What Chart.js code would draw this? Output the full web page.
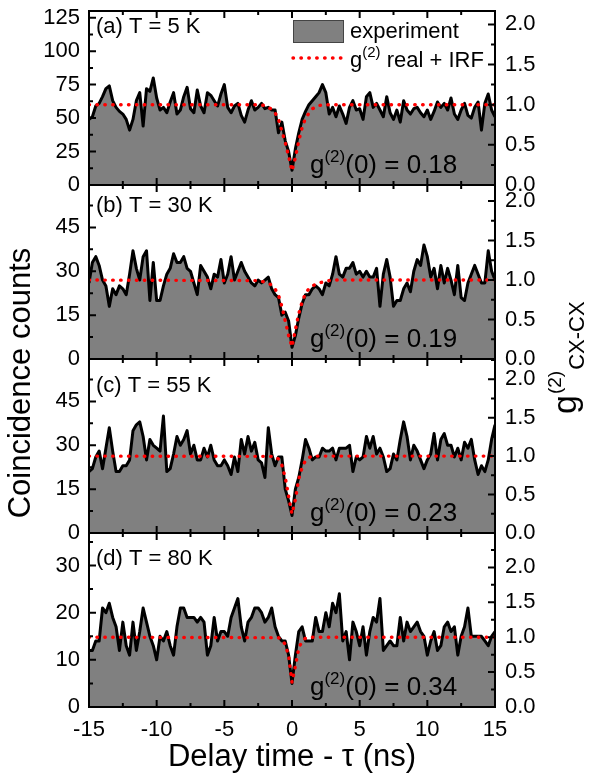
<!DOCTYPE html>
<html>
<head>
<meta charset="utf-8">
<script src="https://cdn.jsdelivr.net/npm/chart.js@4"></script>
<style>
  html, body { margin: 0; padding: 0; background: #fff; }
</style>
</head>
<body>
<canvas id="c" width="589" height="781"></canvas>
<script>
// delay time bins (ns)
const timeNs = [-15,-14.75,-14.5,-14.25,-14,-13.75,-13.5,-13.25,-13,-12.75,-12.5,-12.25,-12,-11.75,-11.5,-11.25,-11,-10.75,-10.5,-10.25,
  -10,-9.75,-9.5,-9.25,-9,-8.75,-8.5,-8.25,-8,-7.75,-7.5,-7.25,-7,-6.75,-6.5,-6.25,-6,-5.75,-5.5,-5.25,
  -5,-4.75,-4.5,-4.25,-4,-3.75,-3.5,-3.25,-3,-2.75,-2.5,-2.25,-2,-1.75,-1.5,-1.25,-1,-0.75,-0.5,-0.25,
  0,0.25,0.5,0.75,1,1.25,1.5,1.75,2,2.25,2.5,2.75,3,3.25,3.5,3.75,4,4.25,4.5,4.75,
  5,5.25,5.5,5.75,6,6.25,6.5,6.75,7,7.25,7.5,7.75,8,8.25,8.5,8.75,9,9.25,9.5,9.75,
  10,10.25,10.5,10.75,11,11.25,11.5,11.75,12,12.25,12.5,12.75,13,13.25,13.5,13.75,14,14.25,14.5,14.75,15];

// coincidence counts, one list per temperature
const counts5K = [49,51,59,61,66,72,74,63,58,55, 53,49,41,49,63,69,44,72,70,80,
  65,56,58,54,62,69,53,56,66,73, 57,54,71,59,54,69,67,63,59,68,
  75,58,54,59,61,52,47,56,63,56, 58,61,57,58,56,56,39,47,33,25,
  11,27,39,49,55,60,63,66,69,75, 69,53,58,51,59,53,46,58,63,56,
  57,49,66,69,58,61,56,51,66,54, 49,56,47,63,56,53,57,58,54,51,
  56,49,55,62,58,61,56,65,53,49, 56,61,52,50,58,62,41,61,68,56, 51];
const counts30K = [26,33,35,32,27,25,18,24,22,25, 24,22,29,37,31,27,35,37,20,33,
  20,20,25,29,31,36,33,33,35,31, 30,26,22,32,30,28,24,29,28,34,
  26,29,35,27,30,33,30,28,26,25, 27,26,27,28,24,22,21,15,16,13,
  4,8,14,19,22,22,24,25,24,22, 26,25,29,35,29,28,31,31,33,29,
  30,28,30,28,28,31,18,29,34,28, 18,20,20,24,26,23,30,34,32,39,
  35,28,31,24,32,26,31,27,22,32, 21,20,26,29,32,29,26,26,37,30, 27];
const counts55K = [21,22,26,28,22,29,36,28,21,21, 23,23,25,35,37,38,33,25,32,30,
  29,28,40,21,22,27,33,30,32,35, 27,30,25,25,29,26,30,25,23,23,
  25,23,20,26,21,32,27,33,28,31, 25,24,19,36,27,23,26,26,15,11,
  6,15,19,25,32,29,25,26,26,29, 28,28,29,25,29,29,29,30,21,26,
  25,26,33,29,33,27,29,26,21,22, 27,25,32,38,33,25,30,28,25,22,
  25,27,34,25,32,34,30,30,26,29, 25,31,29,32,25,20,23,21,25,32, 37];
const counts80K = [12,12,14,14,21,20,22,19,17,12, 18,13,11,18,12,16,21,18,15,13,
  10,15,14,16,13,11,17,21,21,19, 19,19,18,19,18,11,13,19,14,16,
  16,15,19,21,23,17,14,18,19,21, 21,20,18,19,21,17,15,14,14,11,
  5,11,16,17,14,14,14,19,16,16, 20,17,22,20,24,14,16,10,18,16,
  13,17,11,16,19,18,23,12,13,14, 13,13,19,14,18,16,17,18,16,15,
  11,14,16,12,13,17,18,16,17,11, 15,17,21,15,15,15,15,14,13,15, 16];

// fit: g(2) real + IRF
const fitTime5K = [-15,-2.5,-2,-1.5,-1.25,-1,-0.75,-0.5,-0.25,0,0.25,0.5,0.75,1,1.25,1.5,2,2.5,15];
const fit5K = [60,60,59.4,56.5,54,49,40.5,31.8,21.5,10.5,20.5,33,43,50,53.6,56.9,59.4,60,60];
const fitTime30K = [-15,-2.5,-2,-1.5,-1.25,-1,-0.75,-0.5,-0.25,0,0.25,0.5,0.75,1,1.25,1.5,2,2.5,3,15];
const fit30K = [27,26.8,26.3,25.3,24,21.8,18,13,8,4.2,10,15.5,19.5,22.5,24,25,26,26.6,27,27];
const fitTime55K = [-15,-1.25,-1,-0.75,-0.5,-0.25,0,0.25,0.5,0.75,1,1.25,1.5,15];
const fit55K = [26.3,26.2,25.3,23.2,19,12.5,6.5,11.5,18.5,22.5,24.8,25.8,26.3,26.3];
const fitTime80K = [-15,-1,-0.75,-0.5,-0.25,0,0.25,0.5,0.75,1,1.25,15];
const fit80K = [14.8,14.7,14.2,13.3,10.8,5.2,8.7,12.5,14,14.6,14.8,14.8];

// axes
const countMax = [130, 59.5, 59.5, 36.9];
const countStep = [25, 15, 15, 10];
const baseline = [60, 27, 26.3, 14.8];   // counts that correspond to g(2) = 1
const panelLabels = ['(a) T = 5 K', '(b) T = 30 K', '(c) T = 55 K', '(d) T = 80 K'];
const g0Values = ['0.18', '0.19', '0.23', '0.34'];

const FONT = 'Arial, "Liberation Sans", sans-serif';
const leftIds = ['ya', 'yb', 'yc', 'yd'];
const rightIds = ['ra', 'rb', 'rc', 'rd'];
const labelOffset = [16, 21, 27, 26];

const expSets = [counts5K, counts30K, counts55K, counts80K];
const fitSets = [[fitTime5K, fit5K], [fitTime30K, fit30K], [fitTime55K, fit55K], [fitTime80K, fit80K]];

const pts = (xs, ys) => xs.map((x, i) => ({ x: x, y: ys[i] }));

const datasets = [];
fitSets.forEach((f, p) => {
  datasets.push({
    data: pts(f[0], f[1]), yAxisID: leftIds[p],
    borderColor: '#ff0000', borderWidth: 3.4, borderDash: [0.5, 7.4], borderCapStyle: 'round',
    pointRadius: 0, fill: false, tension: 0
  });
});
expSets.forEach((c, p) => {
  datasets.push({
    data: pts(timeNs, c), yAxisID: leftIds[p],
    borderColor: '#000', borderWidth: 3, backgroundColor: '#808080', borderJoinStyle: 'round',
    pointRadius: 0, fill: 'origin', tension: 0
  });
});

const tickFont = { family: FONT, size: 22 };

function leftAxis(p) {
  return {
    type: 'linear', position: 'left', stack: 'L', stackWeight: 1,
    min: 0, max: countMax[p],
    grid: { display: false, drawTicks: false }, border: { display: false },
    ticks: { stepSize: countStep[p], includeBounds: false, autoSkip: false, padding: 9,
      color: '#000', font: tickFont },
    afterFit(s) { s.width = 89; s.paddingTop = 0; s.paddingBottom = 0; }
  };
}
function rightAxis(p) {
  return {
    type: 'linear', position: 'right', stack: 'R', stackWeight: 1, display: true,
    min: 0, max: countMax[p] / baseline[p],
    grid: { display: false, drawTicks: false }, border: { display: false },
    ticks: { stepSize: 0.5, includeBounds: false, autoSkip: false, padding: 10,
      color: '#000', font: tickFont, callback: v => v.toFixed(1) },
    afterFit(s) { s.width = 94; s.paddingTop = 0; s.paddingBottom = 0; }
  };
}

function supText(ctx, x, y, parts) {
  parts.forEach(pt => {
    ctx.font = pt[1] + 'px ' + FONT;
    ctx.fillText(pt[0], x, y + pt[2]);
    x += ctx.measureText(pt[0]).width;
  });
  return x;
}

const decor = {
  id: 'decor',
  afterDraw(chart) {
    const ctx = chart.ctx, area = chart.chartArea, xs = chart.scales.x;
    ctx.save();
    ctx.strokeStyle = '#000';
    ctx.fillStyle = '#000';
    ctx.lineWidth = 2;
    leftIds.forEach((id, p) => {
      const ys = chart.scales[id], rs = chart.scales[rightIds[p]];
      const top = ys.top, bot = ys.bottom;
      ctx.strokeRect(area.left, top, area.right - area.left, bot - top);
      ctx.beginPath();
      for (let k = 0; k <= 12; k++) {
        const px = xs.getPixelForValue(-15 + k * 2.5);
        const len = k % 2 === 0 ? 7 : 4;
        ctx.moveTo(px, top); ctx.lineTo(px, top + len);
        ctx.moveTo(px, bot); ctx.lineTo(px, bot - len);
      }
      for (let k = 0; k * countStep[p] / 2 <= ys.max; k++) {
        const py = ys.getPixelForValue(k * countStep[p] / 2);
        ctx.moveTo(area.left, py); ctx.lineTo(area.left + (k % 2 === 0 ? 7 : 4), py);
      }
      for (let k = 0; k * 0.25 <= rs.max; k++) {
        const py = rs.getPixelForValue(k * 0.25);
        ctx.moveTo(area.right, py); ctx.lineTo(area.right - (k % 2 === 0 ? 7 : 4), py);
      }
      ctx.stroke();

      ctx.textBaseline = 'middle';
      ctx.textAlign = 'left';
      ctx.font = '22px ' + FONT;
      ctx.fillText(panelLabels[p], 96, top + labelOffset[p]);

      ctx.textBaseline = 'alphabetic';
      supText(ctx, 310, bot - 12, [['g', 26, 0], ['(2)', 17, -11], ['(0) = ' + g0Values[p], 26, 0]]);
    });

    // legend
    ctx.fillStyle = '#808080';
    ctx.fillRect(293, 20, 51, 23);
    ctx.lineWidth = 1;
    ctx.strokeStyle = '#444';
    ctx.strokeRect(293.5, 20.5, 50, 22);
    ctx.fillStyle = '#000';
    ctx.textBaseline = 'middle';
    ctx.font = '22px ' + FONT;
    ctx.fillText('experiment', 350, 32);
    ctx.save();
    ctx.strokeStyle = '#ff0000';
    ctx.lineWidth = 3.4;
    ctx.lineCap = 'round';
    ctx.setLineDash([0.5, 7.4]);
    ctx.beginPath(); ctx.moveTo(293, 58); ctx.lineTo(344, 58); ctx.stroke();
    ctx.restore();
    ctx.textBaseline = 'alphabetic';
    supText(ctx, 350, 67, [['g', 22, 0], ['(2)', 15, -10], [' real + IRF', 22, 0]]);

    // axis titles
    ctx.textAlign = 'center';
    ctx.textBaseline = 'middle';
    ctx.font = '31px ' + FONT;
    ctx.fillText('Delay time - \u03c4 (ns)', 292, 757);
    ctx.save();
    ctx.translate(21, 383);
    ctx.rotate(-Math.PI / 2);
    ctx.fillText('Coincidence counts', 0, 0);
    ctx.restore();
    ctx.save();
    ctx.translate(576, 414);
    ctx.rotate(-Math.PI / 2);
    ctx.textAlign = 'left';
    ctx.textBaseline = 'alphabetic';
    ctx.font = '34px ' + FONT;
    ctx.fillText('g', 0, 0);
    const gw = ctx.measureText('g').width;
    ctx.font = '19px ' + FONT;
    ctx.fillText('(2)', gw + 1, -15);
    const sw = ctx.measureText('(2)').width;
    ctx.font = '22px ' + FONT;
    ctx.fillText('CX-CX', gw + sw + 2, 8);
    ctx.restore();
    ctx.restore();
  }
};

const scales = {
  x: {
    type: 'linear', position: 'bottom', min: -15, max: 15,
    grid: { display: false, drawTicks: false }, border: { display: false },
    ticks: { stepSize: 5, includeBounds: false, autoSkip: false, padding: 10, color: '#000',
      maxRotation: 0, font: tickFont },
    afterFit(s) { s.height = 74; s.paddingLeft = 0; s.paddingRight = 0; }
  }
};
// left stack is placed in reverse order, so list the bottom panel first
[3, 2, 1, 0].forEach(p => { scales[leftIds[p]] = leftAxis(p); });
[0, 1, 2, 3].forEach(p => { scales[rightIds[p]] = rightAxis(p); });

new Chart(document.getElementById('c').getContext('2d'), {
  type: 'line',
  data: { datasets: datasets },
  options: {
    responsive: false,
    animation: false,
    layout: { padding: { top: 11, left: 0, right: 0, bottom: 0 } },
    plugins: { legend: { display: false }, tooltip: { enabled: false } },
    scales: scales
  },
  plugins: [decor]
});
</script>
</body>
</html>
